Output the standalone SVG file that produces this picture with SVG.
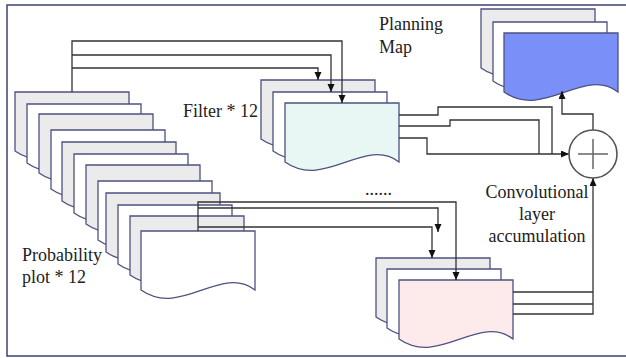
<svg xmlns="http://www.w3.org/2000/svg" width="626" height="358" viewBox="0 0 626 358">
<style>
.doc{stroke:#4d5180;stroke-width:1.3;stroke-linejoin:miter}
.g{fill:#ebebeb}
.w{fill:#ffffff}
.c{fill:#e8f6f4}
.b{fill:#7b8ff8}
.p{fill:#fdeaea}
.ln{fill:none;stroke:#333;stroke-width:1.3}
.arr{marker-end:url(#ah)}
text{font-family:"Liberation Serif","Times New Roman",serif;font-size:18px;fill:#222}
</style>
<defs>
<path id="doc" d="M0,0 H114 V59 C80,33 40,87 0,59 Z"/>
<marker id="ah" markerUnits="userSpaceOnUse" markerWidth="9" markerHeight="8" refX="8" refY="3.5" orient="auto">
<path d="M0,0 L8,3.5 L0,7 Z" fill="#111"/>
</marker>
</defs>
<rect x="7" y="5" width="630" height="351" fill="#fff" stroke="#3c4275" stroke-width="1.5"/>
<g id="probability-plots">
<use href="#doc" class="doc g" x="15" y="92"/>
<use href="#doc" class="doc w" x="27" y="104"/>
<use href="#doc" class="doc g" x="39" y="114"/>
<use href="#doc" class="doc w" x="51" y="130"/>
<use href="#doc" class="doc g" x="62" y="142"/>
<use href="#doc" class="doc w" x="74" y="154"/>
<use href="#doc" class="doc g" x="86" y="165"/>
<use href="#doc" class="doc w" x="98" y="181"/>
<use href="#doc" class="doc g" x="106" y="193"/>
<use href="#doc" class="doc w" x="118" y="205"/>
<use href="#doc" class="doc g" x="130" y="216"/>
<use href="#doc" class="doc w" x="141" y="231"/>
</g>
<g id="filters">
<use href="#doc" class="doc g" x="261" y="80"/>
<use href="#doc" class="doc w" x="273" y="92"/>
<use href="#doc" class="doc c" x="285" y="103"/>
</g>
<g id="planning-map">
<use href="#doc" class="doc g" x="481" y="9"/>
<use href="#doc" class="doc w" x="493" y="22"/>
<use href="#doc" class="doc b" x="504" y="33"/>
</g>
<g id="conv-layer">
<use href="#doc" class="doc g" x="376" y="258"/>
<use href="#doc" class="doc w" x="387" y="269"/>
<use href="#doc" class="doc p" x="399" y="280"/>
</g>
<g id="connectors">
<path class="ln arr" d="M72,92 V41 H342 V103"/>
<path class="ln arr" d="M72,55 H331 V92"/>
<path class="ln arr" d="M72,68 H318 V80"/>
<path class="ln" d="M399,115 H438 V107 H552 V154"/>
<path class="ln" d="M399,126 H450 V120 H539 V154"/>
<path class="ln arr" d="M399,138 H427 V154 H569"/>
<path class="ln arr" d="M593,130 V114 H562 V91"/>
<path class="ln arr" d="M198,231 V202 H456 V280"/>
<path class="ln arr" d="M198,208 H438 V232"/>
<path class="ln arr" d="M198,227 H432 V258"/>
<path class="ln" d="M513,292 H593"/>
<path class="ln" d="M513,304 H593"/>
<path class="ln arr" d="M513,314 H593 V178"/>
</g>
<g id="sum">
<circle cx="593" cy="154" r="24" fill="#fff" stroke="#555" stroke-width="1.6"/>
<path d="M578,154 H608 M593,139 V169" stroke="#666" stroke-width="1.5" fill="none"/>
</g>
<g id="labels">
<text x="183" y="117">Filter * 12</text>
<text x="379" y="30">Planning</text>
<text x="379" y="53">Map</text>
<text x="365" y="195">......</text>
<text x="537" y="198" text-anchor="middle">Convolutional</text>
<text x="537" y="220" text-anchor="middle">layer</text>
<text x="537" y="242" text-anchor="middle">accumulation</text>
<text x="22" y="261">Probability</text>
<text x="22" y="283">plot * 12</text>
</g>
</svg>
